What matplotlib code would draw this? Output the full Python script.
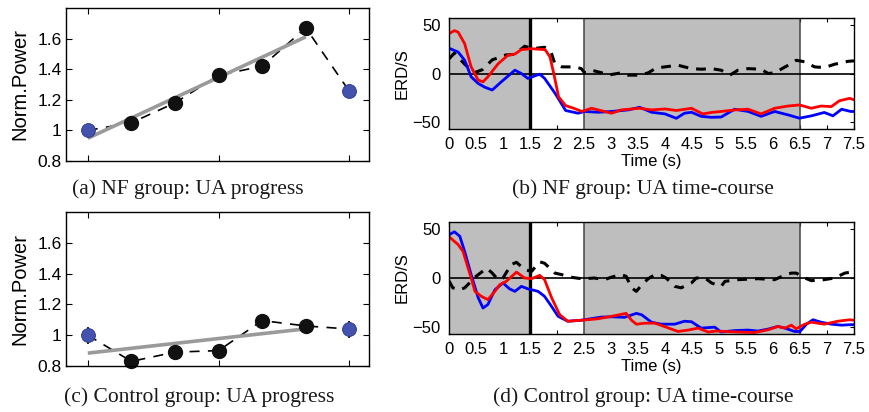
import numpy as np
import matplotlib
matplotlib.use("Agg")
import matplotlib.pyplot as plt

plt.rcParams['font.family'] = ['Liberation Sans', 'DejaVu Sans']

# ---- progress panels (a) and (c): session index vs normalised power
sessions = [1, 2, 3, 4, 5, 6, 7]
nf_power = [1.00, 1.05, 1.18, 1.36, 1.42, 1.67, 1.255]
nf_err = [0.02, 0.02, 0.02, 0.02, 0.02, 0.02, 0.02]
ctrl_power = [1.00, 0.83, 0.89, 0.90, 1.095, 1.06, 1.04]
ctrl_err = [0.055, 0.02, 0.02, 0.02, 0.035, 0.03, 0.055]
power_ticks = [0.8, 1.0, 1.2, 1.4, 1.6]
power_labels = ['0.8', '1', '1.2', '1.4', '1.6']

# ---- time-course panels (b) and (d): ERD/S in time
b_red_t = [0, 0.1, 0.17, 0.29, 0.41, 0.54, 0.63, 0.72, 0.91, 1.09, 1.22, 1.34, 1.53, 1.78, 1.87,
           1.94, 2.03, 2.16, 2.31, 2.46, 2.64, 3.01, 3.19, 3.53, 3.75, 4.0, 4.21, 4.49, 4.70, 4.86,
           5.04, 5.29, 5.54, 5.78, 6.03, 6.28, 6.49, 6.71, 6.89, 7.08, 7.23, 7.42, 7.5]
b_red = [41, 44, 42.5, 30.6, 6.8, -6.8, -8.5, -3.4, 10, 18.7, 20, 24.5, 25.5, 24.5, 17,
         0, -24, -33, -35.7, -39, -35.7, -40.8, -37.4, -35.7, -37.4, -36.4, -38, -35.7, -41.5, -40,
         -39, -37.4, -36.7, -41.5, -35.7, -33.4, -32.3, -35.7, -33.4, -34, -28, -25.5, -27]
b_blue_t = [0, 0.17, 0.29, 0.41, 0.54, 0.66, 0.8, 0.97, 1.22, 1.34, 1.46, 1.68, 1.77, 1.96, 2.16,
            2.39, 2.51, 2.76, 3.01, 3.32, 3.53, 3.75, 4.0, 4.21, 4.36, 4.49, 4.67, 4.86, 5.04, 5.29,
            5.54, 5.78, 6.03, 6.28, 6.49, 6.71, 6.95, 7.11, 7.27, 7.44, 7.5]
b_blue = [26, 22, 13.6, -3.4, -10.2, -14, -17, -8.5, 3.4, 0, -5, -0.7, -5, -20, -38,
          -40.8, -39, -39.8, -39, -37.4, -34.7, -39.8, -41.5, -46, -40.8, -39.8, -44, -45, -44.7, -36.7,
          -39, -44, -39, -42.5, -45.9, -43.5, -40, -43.5, -36.7, -39, -39]
b_black_t = [0, 0.1, 0.3, 0.48, 0.62, 0.8, 1.05, 1.22, 1.40, 1.55, 1.77, 1.89, 1.96, 2.09, 2.33,
             2.45, 2.51, 2.64, 2.88, 2.94, 3.19, 3.32, 3.53, 3.69, 3.84, 4.0, 4.24, 4.49, 4.67, 4.86,
             5.04, 5.2, 5.35, 5.54, 5.78, 5.91, 6.03, 6.28, 6.43, 6.59, 6.77, 6.95, 7.14, 7.39, 7.5]
b_black = [15, 21, 9, 1, 4, 14, 19, 19.7, 28, 25.5, 27, 22, 10, 6.8, 6.8,
           5, 0.7, 3.4, 0, -1.7, 0.7, -1.7, -1.7, 0.7, 5.8, 6.8, 8.5, 5, 4.4, 5,
           3.4, -1.7, 3.4, 5, 4.4, 0, 0.7, 8.5, 13.6, 12, 6.8, 6, 9.5, 12.5, 13]

d_red_t = [0, 0.17, 0.26, 0.41, 0.48, 0.60, 0.72, 0.85, 0.94, 1.06, 1.25, 1.4, 1.53, 1.68, 1.77,
           1.90, 2.05, 2.2, 2.45, 2.76, 3.01, 3.19, 3.28, 3.38, 3.47, 3.62, 3.81, 4.02, 4.24, 4.43,
           4.61, 4.8, 4.95, 5.11, 5.35, 5.66, 5.91, 6.09, 6.22, 6.34, 6.43, 6.59, 6.71, 6.95, 7.2,
           7.42, 7.5]
d_red = [42, 34, 27, 0, -13.6, -18.7, -22, -13.6, -6.8, -3.4, 6, 0, -0.7, 2.7, -1.7,
         -20, -37.4, -44, -43, -41.5, -39, -37, -36, -43, -47, -46, -45.9, -50, -54.4, -53,
         -51, -55, -54, -54.4, -55, -55.5, -52.7, -49.3, -51, -48, -51.7, -47, -45, -47, -44,
         -42.5, -43]
d_blue_t = [0, 0.1, 0.2, 0.29, 0.41, 0.54, 0.63, 0.72, 0.85, 1.0, 1.12, 1.22, 1.34, 1.46, 1.65,
            1.77, 1.90, 2.02, 2.20, 2.45, 2.82, 3.01, 3.25, 3.47, 3.57, 3.75, 3.93, 4.18, 4.36, 4.49,
            4.67, 4.92, 5.04, 5.29, 5.54, 5.72, 5.91, 6.09, 6.22, 6.4, 6.5, 6.62, 6.74, 6.89, 7.08,
            7.27, 7.44, 7.5]
d_blue = [44, 47, 42.5, 27, 3.4, -20, -30.6, -27, -12, -5, -11, -13.6, -8.5, -11, -13.6,
          -18.7, -29, -39, -44, -43, -39.8, -39.5, -40, -36, -37.5, -45, -47, -47, -44, -44.5,
          -51, -50, -55, -53.5, -53, -54, -52, -49.3, -51, -54.4, -54.4, -47, -42.5, -45, -47,
          -48, -47.5, -47.5]
d_black_t = [0, 0.07, 0.2, 0.29, 0.41, 0.5, 0.7, 0.8, 0.91, 1.0, 1.15, 1.25, 1.4, 1.53, 1.68,
             1.77, 1.96, 2.09, 2.27, 2.45, 2.51, 2.69, 2.88, 3.0, 3.19, 3.28, 3.38, 3.47, 3.57, 3.69,
             3.81, 3.93, 4.02, 4.18, 4.3, 4.49, 4.58, 4.74, 4.86, 5.04, 5.11, 5.35, 5.72, 6.03, 6.22,
             6.34, 6.43, 6.59, 6.71, 6.95, 7.14, 7.33, 7.5]
d_black = [-3, -10, -12, -10, -3.4, 1.7, 10, 5, -1.7, 0, 13.6, 16, 8.5, 6.8, 16.5,
           15, 5, 3.4, 0.7, -0.7, -0.7, 0, -1.7, 0.7, 3.4, 1.7, -10, -13.6, -6.8, -0.7,
           3.4, 2.7, 0, -8.5, -10, -5, 0, 0, -5, -8.5, -3.4, -1.7, -0.7, -1.7, 3,
           5, 5, 0, -2.7, -1.7, 0, 5, 6.5]

time_ticks = [0, 0.5, 1, 1.5, 2, 2.5, 3, 3.5, 4, 4.5, 5, 5.5, 6, 6.5, 7, 7.5]
time_labels = ['0', '0.5', '1', '1.5', '2', '2.5', '3', '3.5', '4', '4.5', '5', '5.5', '6', '6.5', '7', '7.5']
shaded = [(0, 1.5), (2.5, 6.5)]

captions = ['(a) NF group: UA progress', '(b) NF group: UA time-course',
            '(c) Control group: UA progress', '(d) Control group: UA time-course']

W, H = 869, 412
fig = plt.figure(figsize=(W / 100, H / 100), dpi=100)


def box(l, t, r, b):
    return [l / W, 1 - b / H, (r - l) / W, (b - t) / H]


def progress(ax, vals, err):
    x = np.array(sessions)
    v = np.array(vals)
    ax.plot(x, v, color='black', lw=1.2, dashes=(6, 5), zorder=1)
    k, c = np.polyfit(x[:6], v[:6], 1)
    ax.plot(x[:6][[0, -1]], k * x[:6][[0, -1]] + c, color='#9a9a9a', lw=2.6,
            solid_capstyle='butt', zorder=2)
    ax.errorbar(x, v, yerr=err, fmt='none', ecolor='black', elinewidth=1.2, zorder=2.5)
    ax.plot(x[1:-1], v[1:-1], 'o', color='#111111', ms=10, zorder=3, clip_on=False)
    ax.plot(x[[0, -1]], v[[0, -1]], 'o', color='#4352ad', mec='#2b3686', mew=0.6,
            ms=10, zorder=3, clip_on=False)
    ax.set_xlim(0.5, 7.45)
    ax.set_ylim(0.8, 1.8)
    ax.set_xticks([1, 4, 7])
    ax.set_xticklabels([])
    ax.set_yticks(power_ticks)
    ax.set_yticklabels(power_labels, fontsize=12.5)
    ax.set_ylabel('Norm.Power', fontsize=14.5, labelpad=6)
    ax.tick_params(direction='in', top=True, right=True, length=4, width=0.8, pad=3)


def timecourse(ax, red_t, red, blue_t, blue, black_t, black):
    ax.set_axisbelow(True)
    for a, b in shaded:
        ax.axvspan(a, b, color='#bebebe', lw=0, zorder=0.8)
    ax.axvline(1.5, color='black', lw=2.4, zorder=1.5)
    ax.axvline(2.5, color='#444444', lw=1.1, zorder=1.5)
    ax.axvline(6.5, color='#444444', lw=1.1, zorder=1.5)
    ax.axhline(0, color='black', lw=1.2, zorder=1.6)
    ax.plot(black_t, black, color='black', lw=2.2, dashes=(3.2, 2.6), zorder=2)
    ax.plot(blue_t, blue, color='#0000ff', lw=2.0, zorder=3, solid_joinstyle='round')
    ax.plot(red_t, red, color='#ff0000', lw=2.0, zorder=4, solid_joinstyle='round')
    ax.set_xlim(0, 7.5)
    ax.set_ylim(-57, 57)
    ax.set_xticks(time_ticks)
    ax.set_xticklabels(time_labels, fontsize=12)
    ax.set_yticks([-50, 0, 50])
    ax.set_yticklabels(['\u221250', '0', '50'], fontsize=12)
    ax.tick_params(direction='in', top=True, right=True, length=3, width=0.8, pad=6)
    ax.set_xlabel('Time (s)', fontsize=12, labelpad=1)
    ax.set_ylabel('ERD/S', fontsize=12, labelpad=2)


ax_a = fig.add_axes(box(66, 8, 369, 161))
progress(ax_a, nf_power, nf_err)
ax_c = fig.add_axes(box(66, 212, 369, 366))
progress(ax_c, ctrl_power, ctrl_err)
ax_b = fig.add_axes(box(449, 18, 854, 129))
timecourse(ax_b, b_red_t, b_red, b_blue_t, b_blue, b_black_t, b_black)
ax_d = fig.add_axes(box(449, 222, 854, 334))
timecourse(ax_d, d_red_t, d_red, d_blue_t, d_blue, d_black_t, d_black)

for ax in (ax_a, ax_b, ax_c, ax_d):
    for s in ax.spines.values():
        s.set_linewidth(1.0)
        s.set_zorder(5)

cap_pos = [(188, 189), (643, 189), (199, 397), (643, 397)]
for txt, (cx, cy) in zip(captions, cap_pos):
    fig.text(cx / W, 1 - cy / H, txt, ha='center', va='center', fontsize=15.5,
             family=['Liberation Serif', 'DejaVu Serif'], color='#1a1a1a')

fig.savefig('out.png', dpi=100)
